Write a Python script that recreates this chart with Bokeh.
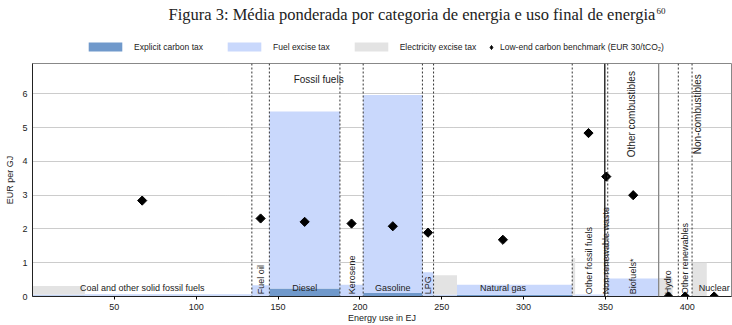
import math
from bokeh.plotting import figure
from bokeh.layouts import column
from bokeh.models import (ColumnDataSource, Legend, LegendItem, Span, Range1d,
                          FixedTicker)
from bokeh.core.properties import value
from bokeh.embed import file_html
from bokeh.resources import INLINE

# ---------------- data ----------------
categories = ["Coal and other solid fossil fuels", "Fuel oil", "Diesel", "Kerosene",
              "Gasoline", "LPG", "Natural gas", "Other fossil fuels",
              "Non-renewable waste", "Biofuels*", "Hydro", "Other renewables", "Nuclear"]
groups = ["Fossil fuels"] * 8 + ["Other combustibles"] * 2 + ["Non-combustibles"] * 3
energy_use = [134.0, 10.7, 43.1, 14.2, 36.2, 6.8, 84.7, 19.9, 1.8, 31.1, 12.0, 8.4, 27.0]
benchmark = [2.84, 2.31, 2.21, 2.16, 2.08, 1.89, 1.68, 4.84, 3.55, 3.00, 0.0, 0.0, 0.0]

# sub-uses inside categories (category index, energy use, tax components)
seg_category = [0, 0, 1, 2, 3, 4, 5, 6, 6, 7, 7, 9, 10, 12]
seg_use = [32.0, 102.0, 10.7, 43.1, 14.2, 36.2, 6.8, 14.3, 70.4, 1.8, 18.1, 31.1, 8.5, 9.0]
seg_carbon = [0.03, 0.02, 0.02, 0.24, 0.00, 0.10, 0.03, 0.03, 0.05, 0.00, 0.02, 0.00, 0.00, 0.00]
seg_fuel = [0.03, 0.05, 0.31, 5.24, 0.35, 5.87, 0.69, 0.03, 0.30, 0.04, 0.04, 0.53, 0.00, 0.00]
seg_elec = [0.25, 0.00, 0.00, 0.00, 0.00, 0.00, 0.00, 0.57, 0.00, 1.10, 0.00, 0.00, 0.55, 1.00]

x_ticks = [50, 100, 150, 200, 250, 300, 350, 400]
y_ticks = [0, 1, 2, 3, 4, 5, 6]

title_text = "Figura 3: Média ponderada por categoria de energia e uso final de energia"
title_note = "60"
legend_labels = ["Explicit carbon tax", "Fuel excise tax", "Electricity excise tax",
                 "Low-end carbon benchmark (EUR 30/tCO₂)"]

# ---------------- styles ----------------
C_CARBON = "#7099cb"
C_FUEL = "#c9d8fc"
C_ELEC = "#e3e3e3"
FONT = "Liberation Sans"
TXT = "#222222"
vertical_labels = {"Fuel oil", "Kerosene", "LPG", "Other fossil fuels",
                   "Non-renewable waste", "Biofuels*", "Hydro", "Other renewables"}
W = 732
FRAME_L, FRAME_R = 32, 1
HH = 62

# ---------------- derived geometry ----------------
starts = []
acc = 0.0
for w in energy_use:
    starts.append(acc)
    acc += w
centers = [s + w / 2 for s, w in zip(starts, energy_use)]

cursor = {i: starts[i] for i in range(len(categories))}
L, R, B1, T1, B2, T2, B3, T3 = [], [], [], [], [], [], [], []
for ci, u, c, f, e in zip(seg_category, seg_use, seg_carbon, seg_fuel, seg_elec):
    l = cursor[ci]
    r = l + u
    cursor[ci] = r
    L.append(l); R.append(r)
    B1.append(0); T1.append(c)
    B2.append(c); T2.append(c + f)
    B3.append(c + f); T3.append(c + f + e)

src = ColumnDataSource(dict(left=L, right=R, b1=B1, t1=T1, b2=B2, t2=T2, b3=B3, t3=T3))

# ---------------- header (title + legend) ----------------
# header frame is aligned with the chart frame; its x range is in page pixels
hdr = figure(width=W, height=HH, x_range=Range1d(FRAME_L, W - FRAME_R),
             y_range=Range1d(0, HH), output_backend="svg", toolbar_location=None,
             min_border_left=FRAME_L, min_border_right=FRAME_R,
             min_border_top=0, min_border_bottom=0)
hdr.axis.visible = False
hdr.grid.visible = False
hdr.outline_line_color = None
hdr.text(x=[168], y=[HH - 14], text=[title_text], text_align="left",
         text_baseline="middle", text_font=value("Liberation Serif"),
         text_font_size="16.5px", text_color=TXT)
hdr.text(x=[656], y=[HH - 10], text=[title_note], text_align="left",
         text_baseline="middle", text_font=value("Liberation Serif"),
         text_font_size="9px", text_color=TXT)

# legend proxies (kept outside the visible header range)
h_carbon = hdr.quad(left=[0], right=[1], bottom=[-2], top=[-1],
                    fill_color=C_CARBON, line_color=None)
h_fuel = hdr.quad(left=[0], right=[1], bottom=[-2], top=[-1],
                  fill_color=C_FUEL, line_color=None)
h_elec = hdr.quad(left=[0], right=[1], bottom=[-2], top=[-1],
                  fill_color=C_ELEC, line_color=None)
h_bench = hdr.scatter(x=[0], y=[-5], marker="diamond", size=10,
                      fill_color="black", line_color="black")

leg_a = Legend(items=[LegendItem(label=legend_labels[0], renderers=[h_carbon]),
                      LegendItem(label=legend_labels[1], renderers=[h_fuel]),
                      LegendItem(label=legend_labels[2], renderers=[h_elec])],
               orientation="horizontal", location=(84 - FRAME_L, 10),
               glyph_width=42, glyph_height=11, label_standoff=8, spacing=20,
               label_text_font=FONT, label_text_font_size="8.5px",
               label_text_color=TXT, padding=0, margin=0,
               border_line_color=None, background_fill_alpha=0)
leg_b = Legend(items=[LegendItem(label=legend_labels[3], renderers=[h_bench])],
               orientation="horizontal", location=(485 - FRAME_L, 10),
               glyph_width=12, glyph_height=10, label_standoff=3, spacing=0,
               label_text_font=FONT, label_text_font_size="8.5px",
               label_text_color=TXT, padding=0, margin=0,
               border_line_color=None, background_fill_alpha=0)
hdr.add_layout(leg_a)
hdr.add_layout(leg_b)

# ---------------- main chart ----------------
p = figure(width=W, height=325 - HH, x_range=Range1d(0, 427), y_range=Range1d(0, 6.9),
           output_backend="svg", toolbar_location=None,
           min_border_left=FRAME_L, min_border_right=FRAME_R,
           min_border_top=1, min_border_bottom=27)

p.quad(left="left", right="right", bottom="b1", top="t1", source=src,
       fill_color=C_CARBON, line_color=None)
p.quad(left="left", right="right", bottom="b2", top="t2", source=src,
       fill_color=C_FUEL, line_color=None)
p.quad(left="left", right="right", bottom="b3", top="t3", source=src,
       fill_color=C_ELEC, line_color=None)

# boundaries between categories
for i in range(1, len(categories)):
    if groups[i] != groups[i - 1]:
        col = "#111111" if groups[i] == "Other combustibles" else "#888888"
        p.add_layout(Span(location=starts[i], dimension="height", line_color=col,
                          line_width=1.3))
    else:
        p.add_layout(Span(location=starts[i], dimension="height", line_color="#333333",
                          line_width=1, line_dash="2 2"))

# category labels
h_src = ColumnDataSource(dict(
    x=[centers[i] for i, c in enumerate(categories) if c not in vertical_labels],
    y=[0.24 for c in categories if c not in vertical_labels],
    t=[c for c in categories if c not in vertical_labels]))
v_src = ColumnDataSource(dict(
    x=[centers[i] for i, c in enumerate(categories) if c in vertical_labels],
    y=[0.07 for c in categories if c in vertical_labels],
    t=[c for c in categories if c in vertical_labels]))
p.text(x="x", y="y", text="t", source=h_src, text_align="center", text_baseline="middle",
       text_font=value(FONT), text_font_size="9px", text_color=TXT)
p.text(x="x", y="y", text="t", source=v_src, angle=math.pi / 2, text_align="left",
       text_baseline="middle", text_font=value(FONT), text_font_size="9px",
       text_color=TXT)

# group labels
group_names = []
for g in groups:
    if g not in group_names:
        group_names.append(g)
gx, gt = [], []
for g in group_names:
    idx = [i for i, gg in enumerate(groups) if gg == g]
    gx.append((starts[idx[0]] + starts[idx[-1]] + energy_use[idx[-1]]) / 2)
    gt.append(g)
p.text(x=[gx[0]], y=[6.44], text=[gt[0]], text_align="center", text_baseline="middle",
       text_font=value(FONT), text_font_size="10px", text_color=TXT)
p.text(x=gx[1:], y=[5.4] * (len(gx) - 1), text=gt[1:], angle=math.pi / 2,
       text_align="center", text_baseline="middle",
       text_font=value(FONT), text_font_size="10px", text_color=TXT)

# benchmark diamonds
p.scatter(x=centers, y=benchmark, marker="square", angle=math.pi / 4, size=6.5,
          fill_color="black", line_color="black")

# axes
p.xaxis.ticker = FixedTicker(ticks=x_ticks)
p.yaxis.ticker = FixedTicker(ticks=y_ticks)
p.xaxis.axis_label = "Energy use in EJ"
p.yaxis.axis_label = "EUR per GJ"
for ax in (p.xaxis, p.yaxis):
    ax.axis_label_text_font = FONT
    ax.axis_label_text_font_size = "9px"
    ax.axis_label_text_font_style = "normal"
    ax.major_label_text_font = FONT
    ax.major_label_text_font_size = "9px"
    ax.minor_tick_line_color = None
    ax.axis_line_color = TXT
    ax.major_label_text_color = TXT
    ax.axis_label_text_color = TXT
p.xaxis.major_tick_in = 0
p.xaxis.major_tick_out = 3
p.xaxis.major_label_standoff = 4
p.xaxis.axis_label_standoff = 0
p.yaxis.major_tick_in = 0
p.yaxis.major_tick_out = 0
p.yaxis.major_label_standoff = 5
p.yaxis.axis_label_standoff = 4
p.xgrid.grid_line_color = None
p.ygrid.grid_line_color = "#999999"
p.ygrid.grid_line_dash = "1 1"
p.outline_line_color = "#888888"

layout = column(hdr, p, spacing=0)
open("out.html", "w").write(file_html(layout, INLINE))
